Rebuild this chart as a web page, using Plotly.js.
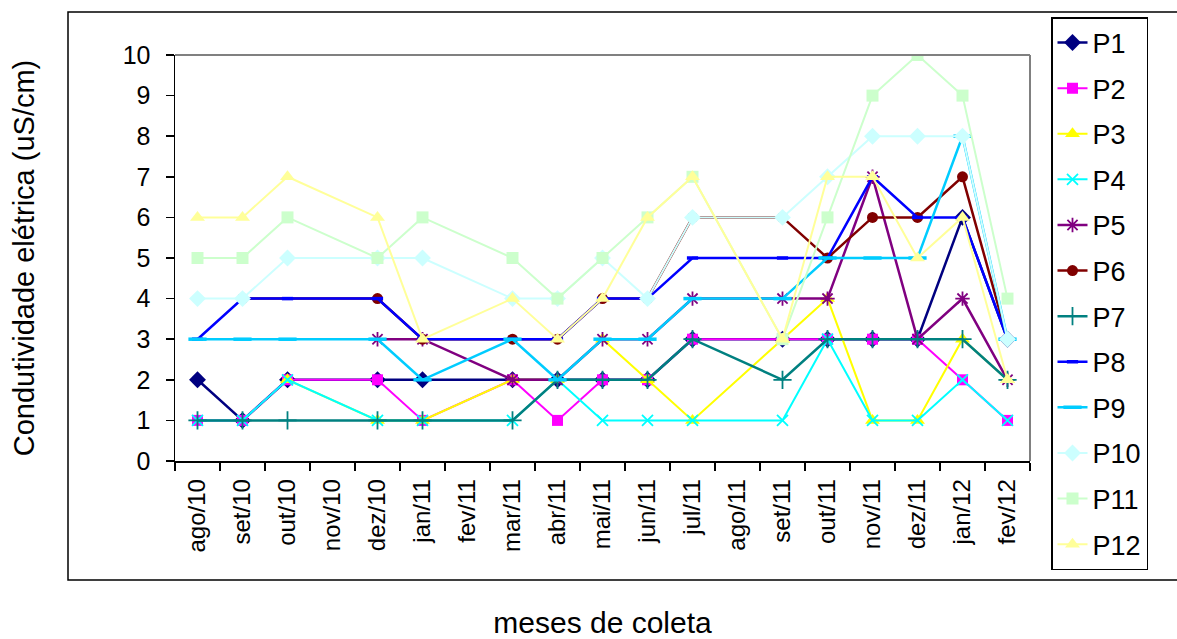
<!DOCTYPE html>
<html>
<head>
<meta charset="utf-8">
<script src="https://cdn.plot.ly/plotly-3.0.1.min.js"></script>
<style>
html,body{margin:0;padding:0;background:#fff;}
#chart{width:1177px;height:639px;}
</style>
</head>
<body>
<div id="chart"></div>
<script>
const months = ["ago/10","set/10","out/10","nov/10","dez/10","jan/11","fev/11","mar/11","abr/11","mai/11","jun/11","jul/11","ago/11","set/11","out/11","nov/11","dez/11","jan/12","fev/12"];
const seriesNames = ["P1","P2","P3","P4","P5","P6","P7","P8","P9","P10","P11","P12"];
const P1  = [2,1,2,null,2,2,null,2,2,2,2,3,null,3,3,3,3,6,3];
const P2  = [1,1,2,null,2,1,null,2,1,2,2,3,null,3,3,3,3,2,1];
const P3  = [null,null,2,null,1,1,null,2,2,3,2,1,null,3,4,1,1,3,2];
const P4  = [1,1,2,null,1,1,null,1,2,1,1,1,null,1,3,1,1,2,1];
const P5  = [null,null,null,null,3,3,null,2,2,3,3,4,null,4,4,7,3,4,2];
const P6  = [null,4,null,null,4,3,null,3,3,4,4,6,null,6,5,6,6,7,3];
const P7  = [1,1,1,null,1,1,null,1,2,2,2,3,null,2,3,3,3,3,2];
const P8  = [3,4,4,null,4,3,null,3,3,4,4,5,null,5,5,7,6,6,3];
const P9  = [3,3,3,null,3,2,null,3,2,3,3,4,null,4,5,5,5,8,3];
const P10 = [4,4,5,null,5,5,null,4,4,5,4,6,null,6,7,8,8,8,3];
const P11 = [5,5,6,null,5,6,null,5,4,5,6,7,null,3,6,9,10,9,4];
const P12 = [6,6,7,null,6,3,null,4,3,4,6,7,null,3,7,7,5,6,2];
const seriesValues = [P1,P2,P3,P4,P5,P6,P7,P8,P9,P10,P11,P12];

const colors = ["#000080","#FF00FF","#FFFF00","#00FFFF","#800080","#800000","#008080","#0000FF","#00CCFF","#CCFFFF","#CCFFCC","#FFFF99"];
const markers = [
  {symbol:"diamond", size:13},
  {symbol:"square", size:11},
  {symbol:"triangle-up", size:13},
  {symbol:"x-thin-open", size:11, open:true},
  {symbol:"asterisk-open", size:12, open:true},
  {symbol:"circle", size:11},
  {symbol:"cross-thin-open", size:13, open:true},
  {symbol:"line-ew-open", size:8, open:true, lw:3.5},
  {symbol:"line-ew-open", size:13, open:true, lw:3.5},
  {symbol:"diamond", size:13},
  {symbol:"square", size:12},
  {symbol:"triangle-up", size:13}
];
const widths = [2.5,2,2,2,2.5,2.5,2.5,2.5,2.5,2,2,2];

const traces = seriesNames.map((name,i)=>{
  const m = markers[i];
  const marker = {symbol:m.symbol, size:m.size, color:colors[i]};
  if (m.open) marker.line = {color:colors[i], width:m.lw||1.8};
  else marker.line = {width:0};
  return {
    type:"scatter", mode:"lines+markers", name:name, legendgroup:name,
    x:months, y:seriesValues[i], connectgaps:true,
    line:{color:colors[i], width:widths[i]},
    marker:marker
  };
});

// plot area: x 175..1030, y 55..461
const L=175, R=1030, T=55, B=461;
const px = x => (x-L)/(R-L);
const py = y => (B-y)/(B-T);

const layout = {
  width:1177, height:639,
  margin:{l:L, r:1177-R, t:T, b:639-B},
  paper_bgcolor:"#ffffff", plot_bgcolor:"#ffffff",
  font:{family:"Liberation Sans, Arial, sans-serif", color:"#000"},
  showlegend:true,
  legend:{
    x:px(1051), y:py(17), xanchor:"left", yanchor:"top",
    bgcolor:"#ffffff", bordercolor:"#000", borderwidth:1.5,
    font:{size:27, family:"Liberation Sans, Arial, sans-serif"},
    tracegroupgap:7.5, itemwidth:30, maxheight:620
  },
  xaxis:{
    type:"category", range:[-0.5,18.5], tickson:"boundaries",
    ticks:"outside", ticklen:8, tickcolor:"#000", tickwidth:1.5,
    showline:true, linecolor:"#000", linewidth:1.5,
    showgrid:false, zeroline:false,
    tickangle:-90, tickfont:{size:24}, ticklabelstandoff:7,
    title:{text:"meses de coleta", font:{size:30}, standoff:64}
  },
  yaxis:{
    range:[0,10], dtick:1, tick0:0,
    ticks:"outside", ticklen:8, tickcolor:"#000", tickwidth:1.5,
    showline:true, linecolor:"#000", linewidth:1.5,
    showgrid:false, zeroline:false,
    tickfont:{size:25}, ticklabelstandoff:10,
    title:{text:"Condutividade elétrica (uS/cm)", font:{size:29}, standoff:79}
  },
  shapes:[
    {type:"line", xref:"paper", yref:"paper", x0:0, x1:1, y0:1, y1:1, line:{color:"#808080", width:2}},
    {type:"line", xref:"paper", yref:"paper", x0:1, x1:1, y0:0, y1:1, line:{color:"#808080", width:2}},
    {type:"rect", xref:"paper", yref:"paper", x0:px(68), x1:px(1185), y0:py(580), y1:py(12), line:{color:"#000", width:1.5}, fillcolor:"rgba(0,0,0,0)", layer:"below"}
  ]
};

Plotly.newPlot("chart", traces, layout, {displayModeBar:false, staticPlot:true});
</script>
</body>
</html>
